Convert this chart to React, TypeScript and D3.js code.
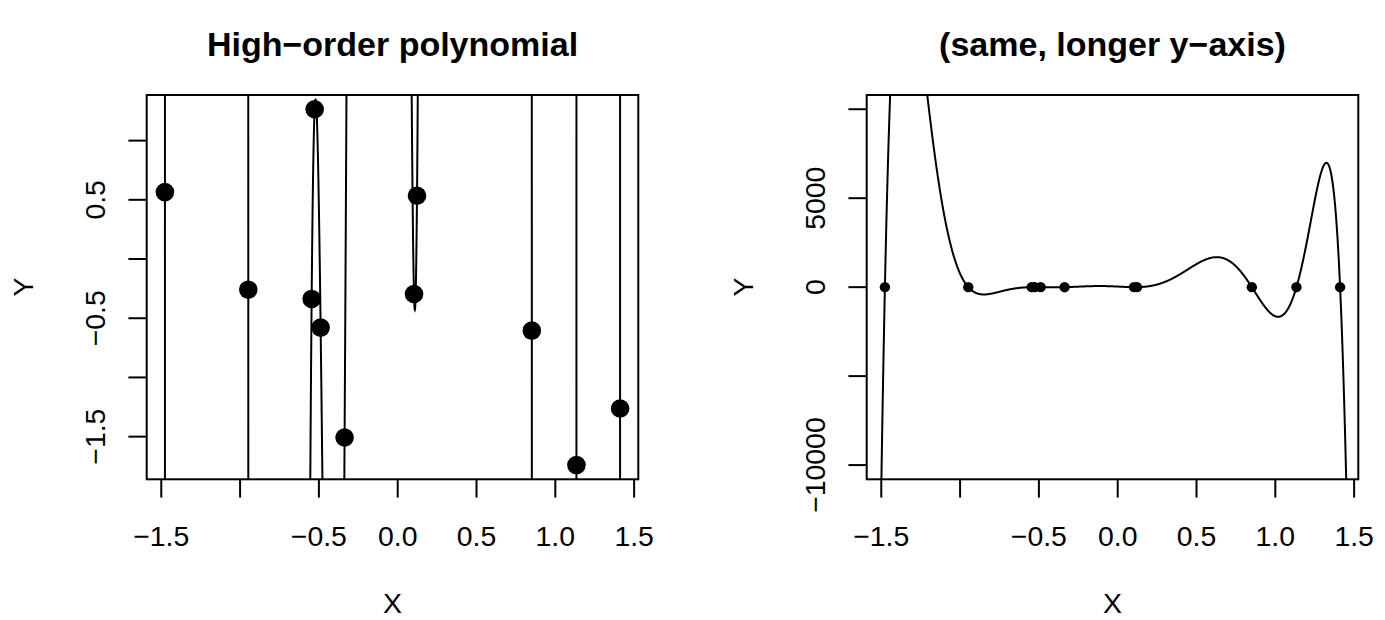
import React, { useEffect, useRef } from 'react';
import * as d3 from 'd3';

// observed points (x, y)
const xValues = [-1.477, -0.948, -0.527, -0.546, -0.489, -0.337, 0.1225, 0.1035, 0.851, 1.134, 1.411];
const yValues = [0.565, -0.259, 1.265, -0.337, -0.579, -1.507, 0.534, -0.295, -0.605, -1.74, -1.262];

const xTicks = [-1.5, -1.0, -0.5, 0.0, 0.5, 1.0, 1.5];
const xTickLabels = ['\u22121.5', '', '\u22120.5', '0.0', '0.5', '1.0', '1.5'];

const leftYTicks = [-1.5, -1.0, -0.5, 0.0, 0.5, 1.0];
const leftYTickLabels = ['\u22121.5', '', '\u22120.5', '', '0.5', ''];

const rightYTicks = [-10000, -5000, 0, 5000, 10000];
const rightYTickLabels = ['\u221210000', '', '0', '5000', ''];
const rightYLim = [-10000, 10000];

const titles = ['High\u2212order polynomial', '(same, longer y\u2212axis)'];

const width = 1385;
const height = 620;
const font = '"Liberation Sans", Arial, Helvetica, sans-serif';

// degree-10 polynomial through the 11 points (what poly(x, 10) gives), barycentric form
function makePoly(xs: number[], ys: number[]) {
    const w = xs.map((xj, j) => {
        let p = 1;
        xs.forEach((xk, k) => { if (k !== j) p *= (xj - xk); });
        return 1 / p;
    });
    return (x: number) => {
        let num = 0, den = 0;
        for (let j = 0; j < xs.length; j++) {
            const d = x - xs[j];
            if (d === 0) return ys[j];
            const t = w[j] / d;
            num += t * ys[j];
            den += t;
        }
        return num / den;
    };
}

function padded(lo: number, hi: number) {
    const r = hi - lo;
    return [lo - 0.04 * r, hi + 0.04 * r];
}

export default function App() {
    const ref = useRef<SVGSVGElement>(null);

    useEffect(() => {
        const svg = d3.select(ref.current);
        svg.selectAll('*').remove();

        const poly = makePoly(xValues, yValues);
        const xDom = padded(d3.min(xValues)!, d3.max(xValues)!);
        const nSamp = 4000;
        const grid = d3.range(nSamp + 1).map(i => xDom[0] + (xDom[1] - xDom[0]) * i / nSamp);
        const fitted = grid.map(x => ({ x, y: poly(x) }));

        const panels = [
            {
                left: 146.7, right: 638.3,
                yDom: padded(d3.min(yValues)!, d3.max(yValues)!),
                yTicks: leftYTicks, yLabels: leftYTickLabels, r: 9.3, title: titles[0],
            },
            {
                left: 866.7, right: 1358.3,
                yDom: padded(rightYLim[0], rightYLim[1]),
                yTicks: rightYTicks, yLabels: rightYTickLabels, r: 5.2, title: titles[1],
            },
        ];
        const top = 95;
        const bottom = 479.3;

        panels.forEach((p, i) => {
            const x = d3.scaleLinear().domain(xDom).range([p.left, p.right]);
            const y = d3.scaleLinear().domain(p.yDom).range([bottom, top]);
            const span = p.yDom[1] - p.yDom[0];
            const clampY = (v: number) => Math.max(p.yDom[0] - 20 * span, Math.min(p.yDom[1] + 20 * span, v));

            const g = svg.append('g');

            g.append('clipPath').attr('id', `clip${i}`)
                .append('rect')
                .attr('x', p.left).attr('y', top)
                .attr('width', p.right - p.left).attr('height', bottom - top);

            const line = d3.line<{ x: number, y: number }>()
                .x(d => x(d.x))
                .y(d => y(clampY(d.y)));

            g.append('path')
                .attr('clip-path', `url(#clip${i})`)
                .attr('d', line(fitted))
                .attr('fill', 'none')
                .attr('stroke', 'black')
                .attr('stroke-width', 2);

            g.selectAll('circle.pt')
                .data(xValues)
                .enter()
                .append('circle')
                .attr('cx', d => x(d))
                .attr('cy', (d, j) => y(yValues[j]))
                .attr('r', p.r)
                .attr('fill', 'black');

            // box
            g.append('rect')
                .attr('x', p.left).attr('y', top)
                .attr('width', p.right - p.left).attr('height', bottom - top)
                .attr('fill', 'none')
                .attr('stroke', 'black')
                .attr('stroke-width', 2);

            // x axis
            xTicks.forEach((t, k) => {
                g.append('line')
                    .attr('x1', x(t)).attr('x2', x(t))
                    .attr('y1', bottom).attr('y2', bottom + 18.3)
                    .attr('stroke', 'black').attr('stroke-width', 2);
                if (xTickLabels[k]) {
                    g.append('text')
                        .attr('x', x(t)).attr('y', 546)
                        .attr('text-anchor', 'middle')
                        .style('font-family', font)
                        .style('font-size', '28.4px')
                        .text(xTickLabels[k]);
                }
            });

            // y axis
            p.yTicks.forEach((t, k) => {
                g.append('line')
                    .attr('x1', p.left).attr('x2', p.left - 18.3)
                    .attr('y1', y(t)).attr('y2', y(t))
                    .attr('stroke', 'black').attr('stroke-width', 2);
                if (p.yLabels[k]) {
                    g.append('text')
                        .attr('transform', `translate(${p.left - 41.7},${y(t)}) rotate(-90)`)
                        .attr('text-anchor', 'middle')
                        .style('font-family', font)
                        .style('font-size', '28.4px')
                        .text(p.yLabels[k]);
                }
            });

            const cx = (p.left + p.right) / 2;
            g.append('text')
                .attr('x', cx).attr('y', 613)
                .attr('text-anchor', 'middle')
                .style('font-family', font)
                .style('font-size', '28.4px')
                .text('X');

            g.append('text')
                .attr('transform', `translate(${p.left - 113.7},${(top + bottom) / 2}) rotate(-90)`)
                .attr('text-anchor', 'middle')
                .style('font-family', font)
                .style('font-size', '28.4px')
                .text('Y');

            g.append('text')
                .attr('x', cx).attr('y', 56)
                .attr('text-anchor', 'middle')
                .style('font-family', font)
                .style('font-size', '34px')
                .style('font-weight', 'bold')
                .text(p.title);
        });
    }, []);

    return (
        <svg ref={ref} width={width} height={height}
            style={{ position: 'absolute', left: 0, top: 0, background: 'white' }} />
    );
}
